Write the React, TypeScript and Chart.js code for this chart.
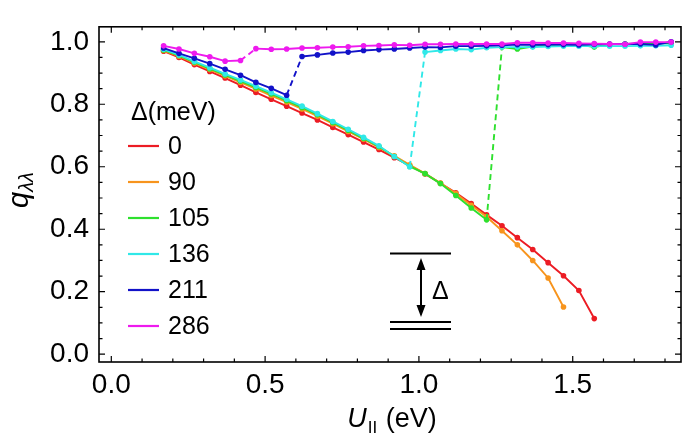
import React, { useEffect, useRef } from 'react';
import { Chart, registerables } from 'chart.js';

Chart.register(...registerables);

// U_parallel values (eV) shared by all series
const U_PAR = [
  0.17, 0.22, 0.27, 0.32, 0.37, 0.42, 0.47, 0.52, 0.57, 0.62, 0.67, 0.72,
  0.77, 0.82, 0.87, 0.92, 0.97, 1.02, 1.07, 1.12, 1.17, 1.22, 1.27, 1.32,
  1.37, 1.42, 1.47, 1.52, 1.57, 1.62, 1.67, 1.72, 1.77, 1.82,
];

const DELTA_LABELS = ['0', '90', '105', '136', '211', '286'];
const SERIES_COLORS = ['#ec1c24', '#f7941d', '#2ee02e', '#30e8e8', '#1212c8', '#ee1aee'];

const Q_DELTA_0 = [
  0.970, 0.950, 0.927, 0.905, 0.884, 0.861, 0.838, 0.816, 0.794, 0.772, 0.750, 0.726,
  0.703, 0.679, 0.655, 0.629, 0.604, 0.577, 0.547, 0.517, 0.482, 0.446, 0.411, 0.373,
  0.335, 0.293, 0.251, 0.204, 0.114,
];
const Q_DELTA_90 = [
  0.972, 0.954, 0.932, 0.911, 0.891, 0.870, 0.849, 0.828, 0.807, 0.785, 0.762, 0.738,
  0.713, 0.688, 0.662, 0.635, 0.606, 0.578, 0.548, 0.514, 0.477, 0.440, 0.395, 0.350,
  0.300, 0.244, 0.151,
];
const Q_DELTA_105 = [
  0.974, 0.956, 0.935, 0.914, 0.894, 0.874, 0.854, 0.833, 0.812, 0.790, 0.767, 0.742,
  0.717, 0.691, 0.665, 0.633, 0.601, 0.578, 0.546, 0.508, 0.468, 0.430,
  0.983, 0.977, 0.985, 0.989, 0.991, 0.991, 0.983, 0.992, 0.993, 0.994, 0.995, 0.995,
];
const Q_DELTA_136 = [
  0.976, 0.958, 0.937, 0.917, 0.897, 0.878, 0.858, 0.837, 0.816, 0.794, 0.770, 0.745,
  0.720, 0.694, 0.667, 0.633, 0.600,
  0.967, 0.972, 0.977, 0.975, 0.981, 0.983, 0.983, 0.983, 0.985, 0.986, 0.986, 0.986,
  0.986, 0.986, 0.987, 0.987, 0.989,
];
const Q_DELTA_211 = [
  0.980, 0.963, 0.947, 0.930, 0.912, 0.893, 0.870, 0.851, 0.829,
  0.953, 0.958, 0.964, 0.967, 0.972, 0.975, 0.977, 0.980, 0.983, 0.982, 0.986, 0.986,
  0.987, 0.989, 0.991, 0.990, 0.991, 0.991, 0.990, 0.992, 0.993, 0.993, 0.993, 0.990,
  1.000,
];
const Q_DELTA_286 = [
  0.987, 0.977, 0.963, 0.952, 0.938, 0.940,
  0.978, 0.976, 0.977, 0.980, 0.981, 0.983, 0.984, 0.987, 0.988, 0.990, 0.989, 0.992,
  0.992, 0.993, 0.993, 0.993, 0.993, 0.997, 0.997, 0.996, 0.996, 0.995, 0.994, 0.993,
  0.992, 0.999, 0.999, 0.999,
];

const SERIES_VALUES = [Q_DELTA_0, Q_DELTA_90, Q_DELTA_105, Q_DELTA_136, Q_DELTA_211, Q_DELTA_286];
// index of last point of the lower branch (the segment after it is the dashed jump)
const JUMP_AFTER = [-1, -1, 21, 16, 8, 5];

const X_TICKS = [0, 0.5, 1.0, 1.5];
const Y_TICKS = [0, 0.2, 0.4, 0.6, 0.8, 1.0];
const X_MIN = -0.04;
const X_MAX = 1.852;
const Y_MIN = -0.025;
const Y_MAX = 1.048;

const FONT = '"Liberation Sans", Arial, Helvetica, sans-serif';

const decorPlugin = {
  id: 'decor',
  afterDraw(chart: any) {
    const { ctx, chartArea: a, scales } = chart;
    const xs = scales.x;
    const ys = scales.y;
    ctx.save();
    ctx.strokeStyle = '#000';
    ctx.fillStyle = '#000';

    // frame
    ctx.lineWidth = 1.6;
    ctx.strokeRect(a.left, a.top, a.right - a.left, a.bottom - a.top);

    // inward ticks (mirrored)
    ctx.lineWidth = 1.2;
    ctx.beginPath();
    for (let i = 0; i <= 18; i++) {
      const px = xs.getPixelForValue(i / 10);
      const len = i % 5 === 0 ? 6 : 3.5;
      ctx.moveTo(px, a.bottom);
      ctx.lineTo(px, a.bottom - len);
      ctx.moveTo(px, a.top);
      ctx.lineTo(px, a.top + len);
    }
    for (let i = 0; i <= 20; i++) {
      const py = ys.getPixelForValue(i / 20);
      const len = i % 4 === 0 ? 6 : 3.5;
      ctx.moveTo(a.left, py);
      ctx.lineTo(a.left + len, py);
      ctx.moveTo(a.right, py);
      ctx.lineTo(a.right - len, py);
    }
    ctx.stroke();

    // legend
    ctx.font = `25px ${FONT}`;
    ctx.textBaseline = 'middle';
    ctx.textAlign = 'left';
    ctx.fillText('\u0394(meV)', 131, 113);
    for (let i = 0; i < DELTA_LABELS.length; i++) {
      const y = 146 + 36 * i;
      ctx.strokeStyle = SERIES_COLORS[i];
      ctx.lineWidth = 2.2;
      ctx.beginPath();
      ctx.moveTo(128, y);
      ctx.lineTo(159, y);
      ctx.stroke();
      ctx.fillText(DELTA_LABELS[i], 168, y + 1);
    }

    // inset level diagram
    ctx.strokeStyle = '#000';
    ctx.lineWidth = 2;
    ctx.beginPath();
    ctx.moveTo(390, 253.5);
    ctx.lineTo(451, 253.5);
    ctx.moveTo(390, 322);
    ctx.lineTo(451, 322);
    ctx.moveTo(390, 329);
    ctx.lineTo(451, 329);
    ctx.moveTo(421, 266);
    ctx.lineTo(421, 309);
    ctx.stroke();
    ctx.beginPath();
    ctx.moveTo(421, 258);
    ctx.lineTo(425.5, 270);
    ctx.lineTo(416.5, 270);
    ctx.closePath();
    ctx.moveTo(421, 317);
    ctx.lineTo(425.5, 305);
    ctx.lineTo(416.5, 305);
    ctx.closePath();
    ctx.fill();
    ctx.font = `25px ${FONT}`;
    ctx.fillText('\u0394', 432, 292);

    // x axis title: U_|| (eV)
    ctx.textBaseline = 'alphabetic';
    const fMain = `italic 27px ${FONT}`;
    const fSub = `17px ${FONT}`;
    const fNorm = `27px ${FONT}`;
    ctx.font = fMain;
    const wU = ctx.measureText('U').width;
    ctx.font = fSub;
    const wS = ctx.measureText('II').width;
    ctx.font = fNorm;
    const wR = ctx.measureText(' (eV)').width;
    const total = wU + wS + 2 + wR;
    let x0 = 392 - total / 2;
    const base = 427;
    ctx.font = fMain;
    ctx.fillText('U', x0, base);
    x0 += wU + 1;
    ctx.font = fSub;
    ctx.fillText('II', x0, base + 6);
    x0 += wS + 1;
    ctx.font = fNorm;
    ctx.fillText(' (eV)', x0, base);

    // y axis title: q_λλ
    ctx.save();
    ctx.translate(28, 190);
    ctx.rotate(-Math.PI / 2);
    ctx.font = `italic 29px ${FONT}`;
    const wq = ctx.measureText('q').width;
    ctx.font = `italic 20px ${FONT}`;
    const wl = ctx.measureText('\u03bb\u03bb').width;
    const tot2 = wq + wl;
    ctx.font = `italic 29px ${FONT}`;
    ctx.fillText('q', -tot2 / 2, 0);
    ctx.font = `italic 20px ${FONT}`;
    ctx.fillText('\u03bb\u03bb', -tot2 / 2 + wq, 5);
    ctx.restore();

    ctx.restore();
  },
};

export default function App() {
  const canvasRef = useRef<HTMLCanvasElement | null>(null);

  useEffect(() => {
    if (!canvasRef.current) return;
    const datasets = SERIES_VALUES.map((vals, i) => {
      const jump = JUMP_AFTER[i];
      return {
        label: DELTA_LABELS[i],
        data: vals.map((v, k) => ({ x: U_PAR[k], y: v })),
        showLine: true,
        borderColor: SERIES_COLORS[i],
        backgroundColor: SERIES_COLORS[i],
        borderWidth: 1.9,
        pointRadius: 2.8,
        pointBorderWidth: 0,
        pointBackgroundColor: SERIES_COLORS[i],
        order: SERIES_VALUES.length - i,
        segment: {
          borderDash: (c: any) => (c.p0DataIndex === jump ? [6, 4] : undefined),
        },
      };
    });

    const chart = new Chart(canvasRef.current, {
      type: 'scatter',
      data: { datasets },
      options: {
        animation: false,
        responsive: false,
        devicePixelRatio: 1,
        layout: { padding: { top: 2, right: 3, left: 0, bottom: 0 } },
        plugins: { legend: { display: false }, tooltip: { enabled: false } },
        scales: {
          x: {
            type: 'linear',
            min: X_MIN,
            max: X_MAX,
            grid: { display: false, drawTicks: false },
            border: { display: false },
            afterBuildTicks: (s: any) => {
              s.ticks = X_TICKS.map((v) => ({ value: v }));
            },
            afterFit: (s: any) => {
              s.height = 85;
            },
            ticks: {
              color: '#000',
              padding: 6,
              font: { family: FONT, size: 28 },
              callback: (v: any) => Number(v).toFixed(1),
            },
          },
          y: {
            type: 'linear',
            min: Y_MIN,
            max: Y_MAX,
            grid: { display: false, drawTicks: false },
            border: { display: false },
            afterBuildTicks: (s: any) => {
              s.ticks = Y_TICKS.map((v) => ({ value: v }));
            },
            afterFit: (s: any) => {
              s.width = 99;
            },
            ticks: {
              color: '#000',
              padding: 10,
              font: { family: FONT, size: 28 },
              callback: (v: any) => Number(v).toFixed(1),
            },
          },
        },
      },
      plugins: [decorPlugin],
    });
    return () => chart.destroy();
  }, []);

  return (
    <div style={{ position: 'absolute', left: 0, top: 0, width: 685, height: 447, background: '#fff' }}>
      <canvas ref={canvasRef} width={685} height={447} />
    </div>
  );
}
